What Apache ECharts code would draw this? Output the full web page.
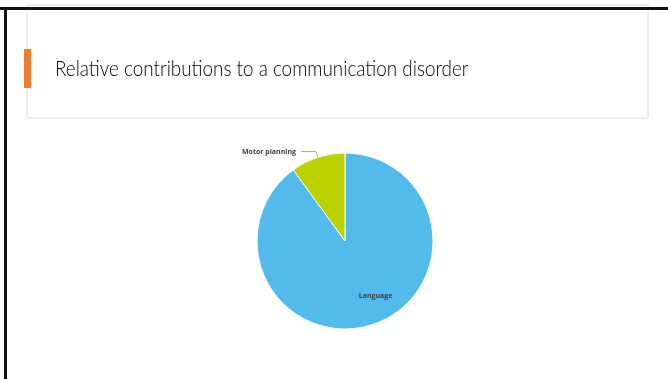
<!DOCTYPE html>
<html><head><meta charset="utf-8">
<script src="https://cdn.jsdelivr.net/npm/echarts@6/dist/echarts.min.js"></script>
<style>html,body{margin:0;padding:0;background:#fff;}#c{width:668px;height:379px;}</style>
</head><body><div id="c"></div>
<script>
const titleText = 'Relative contributions to a communication disorder';
const categories = ['Language', 'Motor planning'];
const values = [90, 10];
const colors = ['#52BBEB', '#BCD100'];

const chart = echarts.init(document.getElementById('c'), null, {renderer: 'canvas'});
chart.setOption({
  animation: false,
  backgroundColor: '#fff',
  graphic: [
    {type: 'rect', shape: {x: 27, y: 5, width: 621, height: 113}, style: {fill: '#fff', stroke: '#DCDCDC', lineWidth: 1}, z: 1},
    {type: 'rect', shape: {x: 0, y: 7, width: 668, height: 3}, style: {fill: '#111'}, z: 5},
    {type: 'rect', shape: {x: 4, y: 7, width: 3, height: 372}, style: {fill: '#111'}, z: 5},
    {type: 'rect', shape: {x: 24, y: 49, width: 7, height: 39}, style: {fill: '#ED7D31'}, z: 5},
    {type: 'text', x: 55, y: 69, scaleX: 0.857, style: {text: titleText, font: '300 22px Lato', fill: '#000', verticalAlign: 'middle'}, z: 5}
  ],
  series: [{
    type: 'pie',
    center: [345, 241],
    radius: [0, 88],
    startAngle: 90,
    clockwise: true,
    itemStyle: {borderColor: '#fff', borderWidth: 1},
    label: {fontFamily: 'Open Sans', fontWeight: 'bold', fontSize: 7, color: '#404040'},
    labelLine: {lineStyle: {color: '#A6A6A6', width: 1}, length: 6, length2: 15},
    data: [
      {name: categories[0], value: values[0], itemStyle: {color: colors[0]},
       label: {position: 'inside', offset: [16, 10]}},
      {name: categories[1], value: values[1], itemStyle: {color: colors[1]},
       label: {position: 'outside'}}
    ]
  }]
});
</script></body></html>
